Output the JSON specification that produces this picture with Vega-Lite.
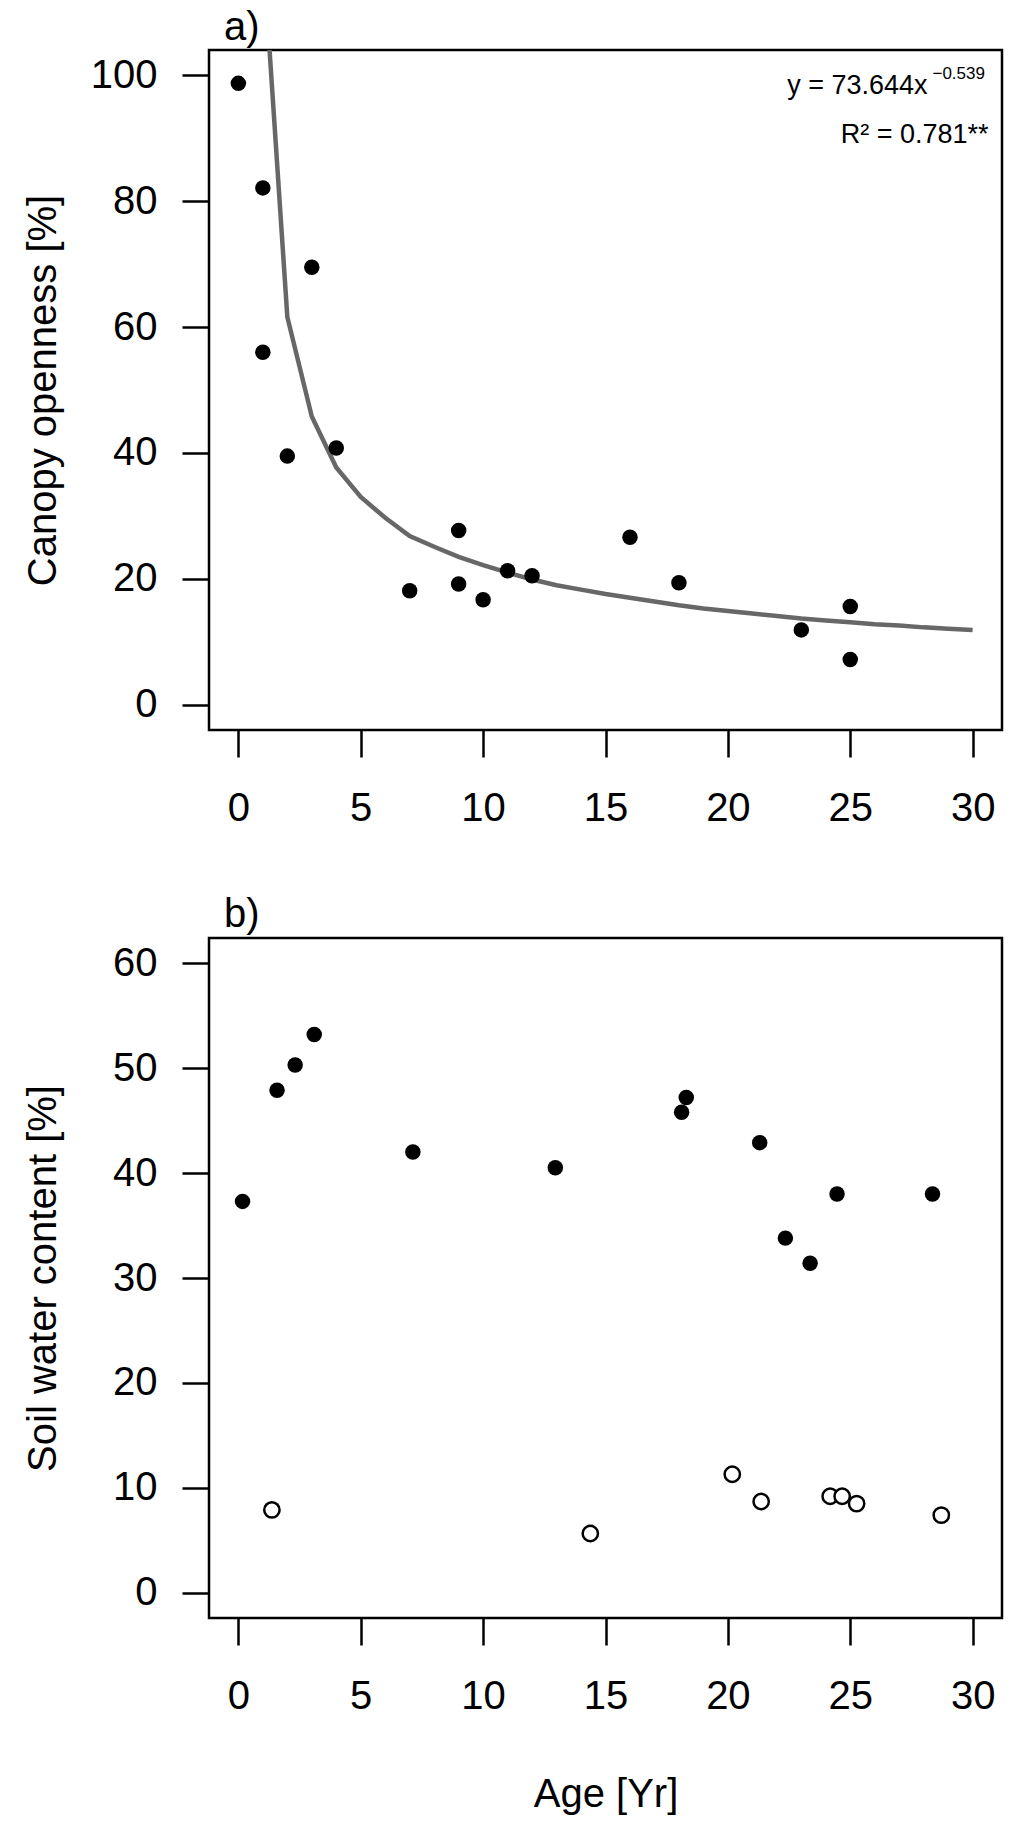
{
  "$schema": "https://vega.github.io/schema/vega-lite/v6.json",
  "background": "white",
  "padding": {"left": 22, "top": 6, "right": 10, "bottom": 10},
  "bounds": "flush",
  "spacing": 208,
  "config": {
    "font": "Liberation Sans",
    "view": {"stroke": "black", "strokeWidth": 2.5},
    "axis": {
      "domain": false,
      "grid": false,
      "tickSize": 27,
      "tickWidth": 2.5,
      "tickColor": "black",
      "labelFont": "Liberation Sans",
      "labelFontSize": 40,
      "labelColor": "black",
      "labelFlush": false,
      "labelOverlap": false,
      "titleFont": "Liberation Sans",
      "titleFontSize": 40,
      "titleFontWeight": "normal",
      "titleColor": "black"
    },
    "axisX": {"labelPadding": 31},
    "axisY": {"labelPadding": 25},
    "text": {"font": "Liberation Sans", "color": "black", "baseline": "alphabetic"}
  },
  "datasets": {
    "canopy": [
      {"age": 0, "openness": 98.7},
      {"age": 1, "openness": 82.1},
      {"age": 1, "openness": 56.0},
      {"age": 2, "openness": 39.5},
      {"age": 3, "openness": 69.5},
      {"age": 4, "openness": 40.8},
      {"age": 7, "openness": 18.1},
      {"age": 9, "openness": 27.7},
      {"age": 9, "openness": 19.2},
      {"age": 10, "openness": 16.7},
      {"age": 11, "openness": 21.3},
      {"age": 12, "openness": 20.5},
      {"age": 16, "openness": 26.6},
      {"age": 18, "openness": 19.4},
      {"age": 23, "openness": 11.9},
      {"age": 25, "openness": 15.6},
      {"age": 25, "openness": 7.2}
    ],
    "curve": [
      {"age": 1, "fit": 120.0},
      {"age": 2, "fit": 61.6},
      {"age": 3, "fit": 45.8},
      {"age": 4, "fit": 37.7},
      {"age": 5, "fit": 33.0},
      {"age": 6, "fit": 29.7},
      {"age": 7, "fit": 26.8},
      {"age": 8, "fit": 25.1},
      {"age": 9, "fit": 23.5},
      {"age": 10, "fit": 22.2},
      {"age": 11, "fit": 21.0},
      {"age": 12, "fit": 19.9},
      {"age": 13, "fit": 19.0},
      {"age": 14, "fit": 18.3},
      {"age": 15, "fit": 17.6},
      {"age": 16, "fit": 17.0},
      {"age": 17, "fit": 16.4},
      {"age": 18, "fit": 15.8},
      {"age": 19, "fit": 15.3},
      {"age": 20, "fit": 14.9},
      {"age": 21, "fit": 14.5},
      {"age": 22, "fit": 14.1},
      {"age": 23, "fit": 13.7},
      {"age": 24, "fit": 13.4},
      {"age": 25, "fit": 13.1},
      {"age": 26, "fit": 12.8},
      {"age": 27, "fit": 12.6},
      {"age": 28, "fit": 12.3},
      {"age": 29, "fit": 12.1},
      {"age": 30, "fit": 11.9}
    ],
    "soil": [
      {"age": 0.17, "water": 37.3, "group": "A"},
      {"age": 1.58, "water": 47.9, "group": "A"},
      {"age": 2.32, "water": 50.3, "group": "A"},
      {"age": 3.1, "water": 53.2, "group": "A"},
      {"age": 7.13, "water": 42.0, "group": "A"},
      {"age": 12.95, "water": 40.5, "group": "A"},
      {"age": 18.3, "water": 47.2, "group": "A"},
      {"age": 18.11, "water": 45.8, "group": "A"},
      {"age": 21.3, "water": 42.9, "group": "A"},
      {"age": 22.35, "water": 33.8, "group": "A"},
      {"age": 23.36, "water": 31.4, "group": "A"},
      {"age": 24.46, "water": 38.0, "group": "A"},
      {"age": 28.36, "water": 38.0, "group": "A"},
      {"age": 1.37, "water": 7.9, "group": "B"},
      {"age": 14.38, "water": 5.65, "group": "B"},
      {"age": 20.18, "water": 11.3, "group": "B"},
      {"age": 21.36, "water": 8.7, "group": "B"},
      {"age": 24.18, "water": 9.2, "group": "B"},
      {"age": 24.67, "water": 9.2, "group": "B"},
      {"age": 25.26, "water": 8.5, "group": "B"},
      {"age": 28.72, "water": 7.4, "group": "B"}
    ]
  },
  "vconcat": [
    {
      "width": 793,
      "height": 680,
      "layer": [
        {
          "data": {"name": "curve"},
          "mark": {"type": "line", "color": "#676767", "strokeWidth": 4.5, "clip": true},
          "encoding": {
            "x": {
              "field": "age",
              "type": "quantitative",
              "scale": {"domain": [-1.2, 31.2], "nice": false, "zero": false},
              "axis": {"values": [0, 5, 10, 15, 20, 25, 30], "title": null}
            },
            "y": {
              "field": "fit",
              "type": "quantitative",
              "scale": {"domain": [-4, 104], "nice": false, "zero": false},
              "axis": {"values": [0, 20, 40, 60, 80, 100], "title": "Canopy openness [%]", "titlePadding": 27}
            }
          }
        },
        {
          "data": {"name": "canopy"},
          "mark": {"type": "point", "shape": "circle", "filled": true, "size": 240, "color": "black", "opacity": 1},
          "encoding": {
            "x": {"field": "age", "type": "quantitative", "axis": {"title": null}},
            "y": {"field": "openness", "type": "quantitative", "axis": {"title": "Canopy openness [%]"}}
          }
        },
        {
          "data": {"values": [{}]},
          "mark": {"type": "text", "text": "a)", "align": "left", "fontSize": 40},
          "encoding": {"x": {"datum": -0.59}, "y": {"datum": 105.6}}
        },
        {
          "data": {"values": [{}]},
          "mark": {"type": "text", "text": "y = 73.644x", "align": "right", "fontSize": 27},
          "encoding": {"x": {"datum": 28.16}, "y": {"datum": 97.0}}
        },
        {
          "data": {"values": [{}]},
          "mark": {"type": "text", "text": "\u22120.539", "align": "left", "fontSize": 17},
          "encoding": {"x": {"datum": 28.36}, "y": {"datum": 99.4}}
        },
        {
          "data": {"values": [{}]},
          "mark": {"type": "text", "text": "R\u00b2 = 0.781**", "align": "right", "fontSize": 27},
          "encoding": {"x": {"datum": 30.65}, "y": {"datum": 89.2}}
        }
      ]
    },
    {
      "width": 793,
      "height": 680,
      "layer": [
        {
          "data": {"name": "soil"},
          "transform": [{"filter": {"field": "group", "equal": "A"}}],
          "mark": {"type": "point", "shape": "circle", "filled": true, "size": 240, "color": "black", "opacity": 1},
          "encoding": {
            "x": {
              "field": "age",
              "type": "quantitative",
              "scale": {"domain": [-1.2, 31.2], "nice": false, "zero": false},
              "axis": {"values": [0, 5, 10, 15, 20, 25, 30], "title": "Age [Yr]", "titlePadding": 58}
            },
            "y": {
              "field": "water",
              "type": "quantitative",
              "scale": {"domain": [-2.4, 62.4], "nice": false, "zero": false},
              "axis": {"values": [0, 10, 20, 30, 40, 50, 60], "title": "Soil water content [%]", "titlePadding": 49}
            }
          }
        },
        {
          "data": {"name": "soil"},
          "transform": [{"filter": {"field": "group", "equal": "B"}}],
          "mark": {"type": "point", "shape": "circle", "filled": false, "size": 235, "stroke": "black", "strokeWidth": 2.5, "fill": "white", "opacity": 1},
          "encoding": {
            "x": {"field": "age", "type": "quantitative", "axis": {"title": "Age [Yr]"}},
            "y": {"field": "water", "type": "quantitative", "axis": {"title": "Soil water content [%]"}}
          }
        },
        {
          "data": {"values": [{}]},
          "mark": {"type": "text", "text": "b)", "align": "left", "fontSize": 40},
          "encoding": {"x": {"datum": -0.59}, "y": {"datum": 63.45}}
        }
      ]
    }
  ]
}
